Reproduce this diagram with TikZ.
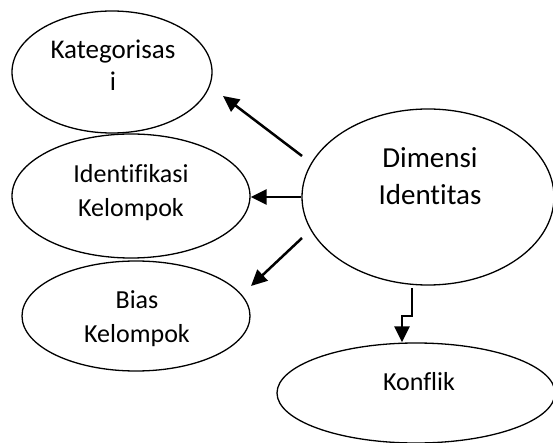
\documentclass[tikz,border=0pt]{standalone}
\usepackage{fontspec}
\setmainfont{Carlito}[Ligatures=NoCommon]
\usetikzlibrary{shapes.geometric}
\usetikzlibrary{arrows.meta}
\tikzset{ar/.style={-{Triangle[length=16pt,width=15pt]}, line width=2.5pt}}

\begin{document}
\begin{tikzpicture}[x=1pt, y=-1pt]
\tikzset{
  base/.style={draw, line width=1.3pt, inner sep=0pt},
  el/.style={base, ellipse},
  txt/.style={align=center, anchor=base, font=\fontsize{26}{34}\selectfont},
}

\useasboundingbox (0,0) rectangle (553,443);

% left column
\node [el, minimum width=200, minimum height=122] (kat) at (112,72) {};
\node [txt, font=\fontsize{27}{32}\selectfont] (katt) at (113,91) {Kategorisas\\i};
\node [el, minimum width=238, minimum height=124] (ident) at (131,196) {};
\node [txt] (identt) at (131,217) {Identifikasi\\Kelompok};
\node [el, minimum width=228, minimum height=110] (bias) at (136,316) {};
\node [txt] (biast) at (137,342) {Bias\\Kelompok};

% right side
\node [el, minimum width=252, minimum height=176] (dim) at (428,197) {};
\node [txt, font=\fontsize{29}{37}\selectfont] (dimt) at (430,205) {Dimensi\\Identitas};
\node [el, minimum width=278, minimum height=100] (konf) at (416,393) {};
\node [txt] (konft) at (419,390) {Konflik};

\coordinate (k1) at (302,156);
\coordinate (k2) at (223,96);
\coordinate (b1) at (302,238);
\coordinate (b2) at (251,286);
\coordinate (c1) at (412,288);
\coordinate (c2) at (402,316);

\draw[ar] (k1) -- (k2);
\draw[ar] (dim.west) -- (dim.west -| ident.east);
\draw[ar] (b1) -- (b2);
\draw[ar] (c1) |- (c2) -- (c2 |- konf.north);
\end{tikzpicture}
\end{document}
